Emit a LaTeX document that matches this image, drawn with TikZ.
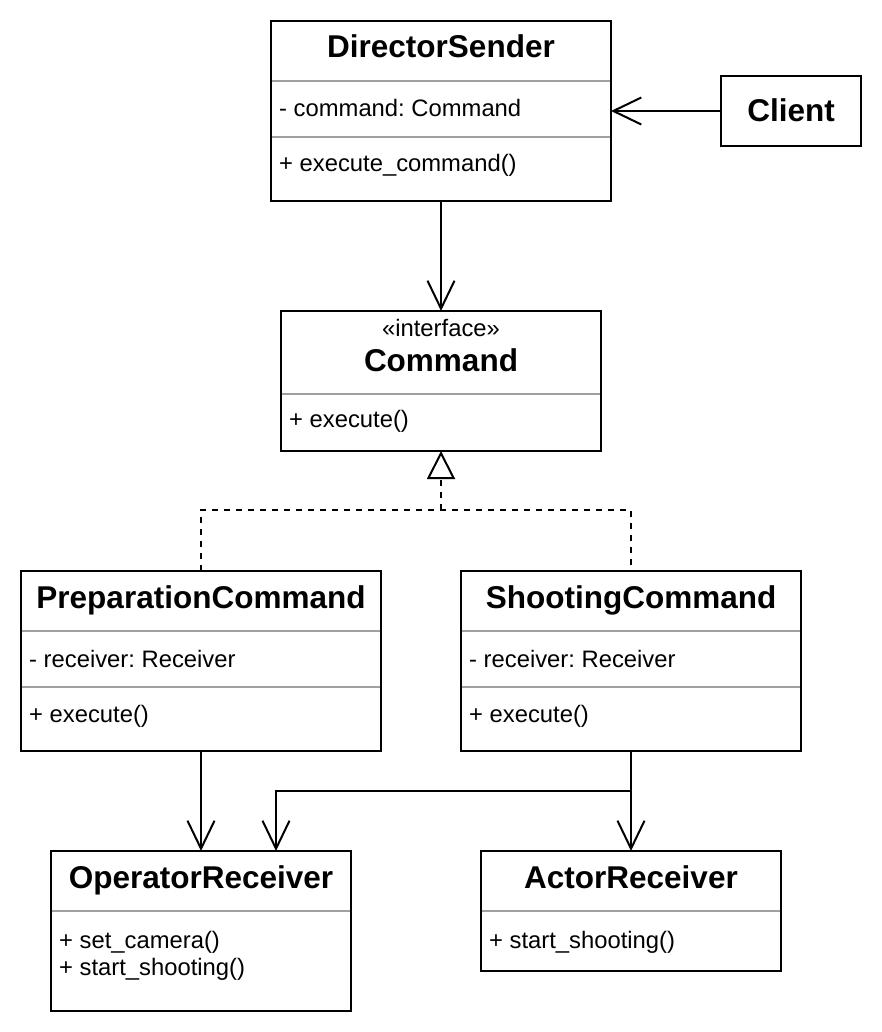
\documentclass[tikz,border=0pt]{standalone}
\usepackage{fontspec}
\setmainfont{Liberation Sans}
\usetikzlibrary{arrows.meta,calc}
\definecolor{sepgray}{RGB}{160,160,160}
\newcommand\ttlfont{\fontsize{31.5}{36}\selectfont\bfseries}
\newcommand\bodyfont{\fontsize{23.8}{28}\selectfont}
\frenchspacing
\begin{document}
\begin{tikzpicture}[x=1pt,y=-1pt,
  cls/.style={draw, line width=2pt, anchor=north west, inner sep=0pt, outer sep=0pt},
  sepline/.style={draw=sepgray, line width=2pt},
  ttl/.style={anchor=base, inner sep=0pt, font=\ttlfont},
  txt/.style={anchor=base west, inner sep=0pt, font=\bodyfont},
  conn/.style={line width=2pt, -{Straight Barb[length=28pt,width=27pt,line width=2pt]}},
  realline/.style={line width=2pt, dash pattern=on 6pt off 6pt},
  realtip/.style={line width=2pt, dash pattern=on 6pt off 6pt, -{Triangle[open,length=28pt,width=28pt,fill=white,line width=2pt]}}
]
\useasboundingbox (0,0) rectangle (882,1032);
\fill[white] (0,0) rectangle (882,1032);

% DirectorSender
\node[cls, minimum width=340pt, minimum height=180pt] (ds) at (271,21) {};
\node[ttl] (dst) at (441,58) {DirectorSender};
\draw[sepline] (272,81) -- (610,81);
\node[txt] (dsa) at (279,117) {- command: Command};
\draw[sepline] (272,137) -- (610,137);
\node[txt] (dsm) at (279,172) {+ execute\_command()};

% Client
\node[cls, minimum width=140pt, minimum height=70pt] (client) at (721,76) {};
\node[ttl] (clt) at (791,122) {Client};

% Command
\node[cls, minimum width=320pt, minimum height=140pt] (cmd) at (281,311) {};
\node[anchor=base, inner sep=0pt, font=\bodyfont] (cmds) at (441,336) {«interface»};
\node[ttl] (cmdt) at (441,371) {Command};
\draw[sepline] (282,394) -- (600,394);
\node[txt] (cmdm) at (289,427) {+ execute()};

% PreparationCommand
\node[cls, minimum width=360pt, minimum height=180pt] (prep) at (21,571) {};
\node[ttl] (prept) at (201,608) {PreparationCommand};
\draw[sepline] (22,631) -- (380,631);
\node[txt] (prepa) at (29,667) {- receiver: Receiver};
\draw[sepline] (22,687) -- (380,687);
\node[txt] (prepm) at (29,722) {+ execute()};

% ShootingCommand
\node[cls, minimum width=340pt, minimum height=180pt] (shoot) at (461,571) {};
\node[ttl] (shoott) at (631,608) {ShootingCommand};
\draw[sepline] (462,631) -- (800,631);
\node[txt] (shoota) at (469,667) {- receiver: Receiver};
\draw[sepline] (462,687) -- (800,687);
\node[txt] (shootm) at (469,722) {+ execute()};

% OperatorReceiver
\node[cls, minimum width=300pt, minimum height=160pt] (op) at (51,851) {};
\node[ttl] (opt) at (201,888) {OperatorReceiver};
\draw[sepline] (52,911) -- (350,911);
\node[txt] (opm1) at (59,948) {+ set\_camera()};
\node[txt] (opm2) at (59,975) {+ start\_shooting()};

% ActorReceiver
\node[cls, minimum width=300pt, minimum height=120pt] (actor) at (481,851) {};
\node[ttl] (actt) at (631,888) {ActorReceiver};
\draw[sepline] (482,911) -- (780,911);
\node[txt] (actm) at (489,948) {+ start\_shooting()};

% Connectors
\draw[conn] (client.west) -- (client.west -| ds.east);
\draw[conn] (ds.south) -- (cmd.north);

\coordinate (j) at (441,510);
\draw[realline] (prep.north) |- (j) -| (shoot.north);
\draw[realtip] (j) -- (cmd.south);

\draw[conn] (prep.south) -- (op.north);
\draw[conn] (shoot.south) -- (actor.north);
\coordinate (k) at ($(op.north west)!0.75!(op.north east)$);
\draw[conn] (shoot.south) -- ++(0,40) -| (k);
\end{tikzpicture}
\end{document}
